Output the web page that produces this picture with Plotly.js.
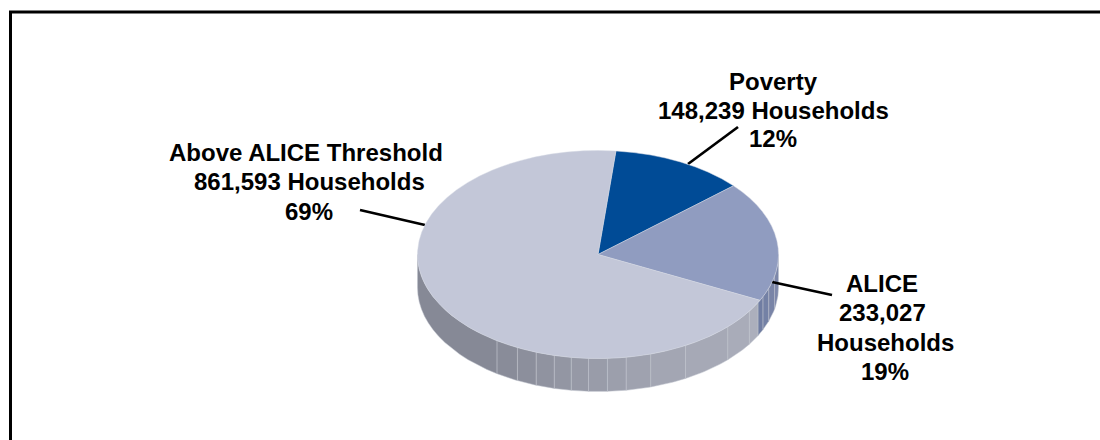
<!DOCTYPE html>
<html>
<head>
<meta charset="utf-8">
<script src="https://cdn.plot.ly/plotly-3.0.1.min.js"></script>
<style>html,body{margin:0;padding:0;background:#fff}#chart{width:1100px;height:440px}</style>
</head>
<body>
<div id="chart"></div>
<script>
const categories = ['Poverty', 'ALICE', 'Above ALICE Threshold'];
const households = [148239, 233027, 861593];
const percents = [12, 19, 69];
const sliceColors = ['#004b96', '#909cc0', '#c3c7d8'];
const startAngle = 5.7;
// Facets of the pie's side wall, in degrees clockwise from 12 o'clock.
const aliceWallSteps = [90, 102, 109, 114, 117.6];
const aboveWallSteps = [117.6, 123, 134, 151, 163, 171, 177, 183, 188.5, 194, 200, 206.5, 214, 270];

const cx = 598, cy = 254.5, rx = 180.5, ry = 104, depth = 33;

function hex(c) { return '#' + c.map(v => Math.round(v).toString(16).padStart(2, '0')).join(''); }
function mix(a, b, t) { return a.map((v, i) => v + (b[i] - v) * t); }

function wallTrace(a0, a1, color) {
  const xs = [], ys = [];
  const n = 14;
  for (let i = 0; i <= n; i++) {
    const a = (a0 + (a1 - a0) * i / n) * Math.PI / 180;
    xs.push(cx + rx * Math.sin(a)); ys.push(cy - ry * Math.cos(a));
  }
  for (let i = n; i >= 0; i--) {
    const a = (a0 + (a1 - a0) * i / n) * Math.PI / 180;
    xs.push(cx + rx * Math.sin(a)); ys.push(cy - ry * Math.cos(a) + depth);
  }
  xs.push(xs[0]); ys.push(ys[0]);
  return { type: 'scatter', mode: 'lines', x: xs, y: ys, fill: 'toself', fillcolor: color,
    line: { color: '#bfc2cd', width: 0.5 }, hoverinfo: 'skip', showlegend: false };
}

const wall = [];
for (let i = 0; i < aliceWallSteps.length - 1; i++) {
  wall.push(wallTrace(aliceWallSteps[i], aliceWallSteps[i + 1],
    hex(mix([125, 136, 170], [112, 125, 162], i / 3))));
}
for (let i = aboveWallSteps.length - 2; i >= 0; i--) {
  const t = i / (aboveWallSteps.length - 2);
  wall.push(wallTrace(aboveWallSteps[i], aboveWallSteps[i + 1],
    hex(mix([172, 175, 188], [134, 137, 150], t))));
}

const leaders = [
  { x: [738, 688], y: [127, 164] },
  { x: [360, 425], y: [210, 225] },
  { x: [772, 832], y: [282, 295] }
].map(l => ({ type: 'scatter', mode: 'lines', x: l.x, y: l.y,
  line: { color: '#000', width: 2.7 }, hoverinfo: 'skip', showlegend: false }));

const pie = {
  type: 'pie', labels: categories, values: households, sort: false, direction: 'clockwise',
  rotation: startAngle, textinfo: 'none', hoverinfo: 'label+value+percent', showlegend: false,
  marker: { colors: sliceColors, line: { color: '#d5d8e4', width: 0.6 } },
  domain: { x: [(cx - rx) / 1100, (cx + rx) / 1100], y: [(440 - cy - rx) / 440, (440 - cy + rx) / 440] }
};

const fmt = v => v.toLocaleString('en-US');
const font = { family: '"Liberation Sans", Arial, sans-serif', size: 24, color: '#000' };
const note = (x, y, text) => ({ x, y, xref: 'x', yref: 'y', text: `<b>${text}</b>`, showarrow: false, font,
  align: 'center', xanchor: 'center', yanchor: 'middle' });
const annotations = [
  note(773, 81, categories[0]),
  note(773, 110, `${fmt(households[0])} Households`),
  note(773, 138, `${percents[0]}%`),
  note(306, 152, categories[2]),
  note(309, 181, `${fmt(households[2])} Households`),
  note(309, 211, `${percents[2]}%`),
  note(881.5, 283, categories[1]),
  note(882.5, 312, fmt(households[1])),
  note(885, 342, 'Households'),
  note(884.5, 371, `${percents[1]}%`)
];

const frame = [
  { type: 'line', xref: 'x', yref: 'y', x0: 9, x1: 1100, y0: 12, y1: 12, line: { color: '#000', width: 3 } },
  { type: 'line', xref: 'x', yref: 'y', x0: 10.5, x1: 10.5, y0: 11, y1: 440, line: { color: '#000', width: 3 } }
];

const layout = {
  width: 1100, height: 440, margin: { l: 0, r: 0, t: 0, b: 0 },
  paper_bgcolor: '#fff', plot_bgcolor: '#fff', showlegend: false,
  xaxis: { range: [0, 1100], visible: false, fixedrange: true },
  yaxis: { range: [440, 0], visible: false, fixedrange: true },
  annotations, shapes: frame
};

Plotly.newPlot('chart', wall.concat(leaders, [pie]), layout, { displayModeBar: false, staticPlot: true }).then(gd => {
  const layer = gd.querySelector('.pielayer');
  if (layer) layer.setAttribute('transform',
    `translate(0 ${cy}) scale(1 ${ry / rx}) translate(0 ${-cy})`);
});
</script>
</body>
</html>
